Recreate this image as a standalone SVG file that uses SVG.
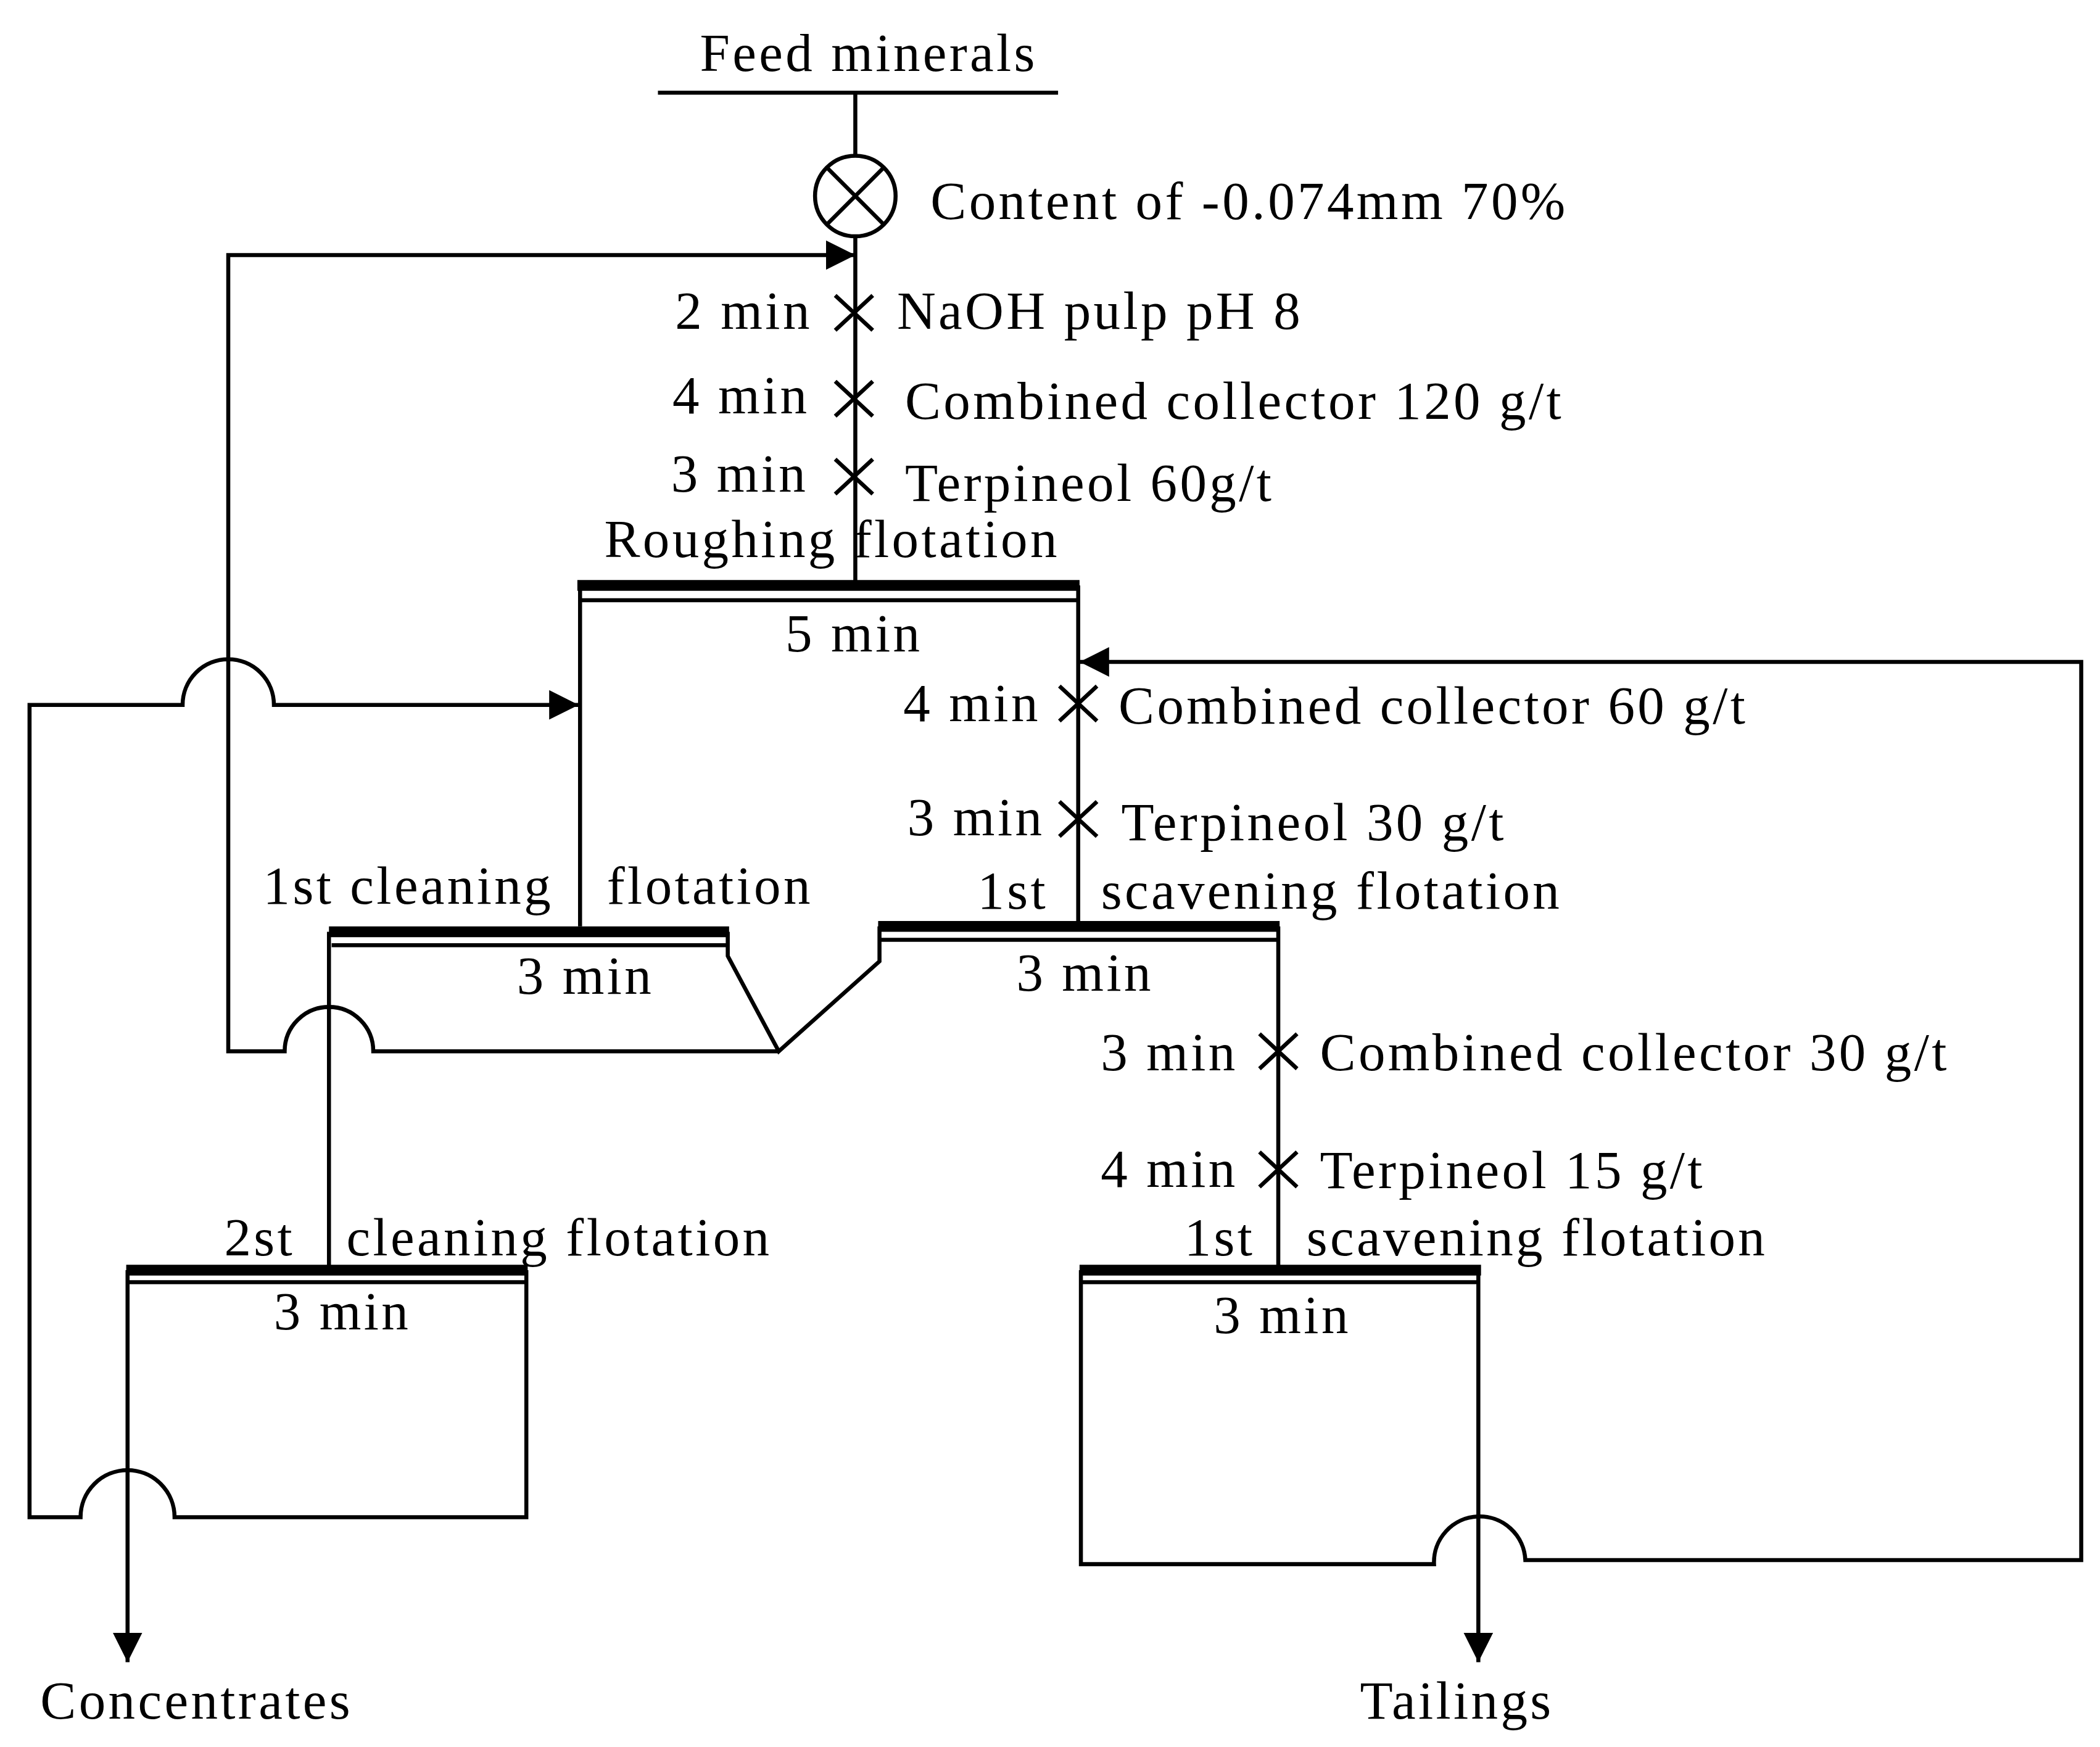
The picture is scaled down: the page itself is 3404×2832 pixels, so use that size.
<svg xmlns="http://www.w3.org/2000/svg" width="3404" height="2832" viewBox="0 0 3404 2832">
<defs>
<style>
.l{fill:none;stroke:#000;stroke-width:3}
.b{fill:none;stroke:#000;stroke-width:8}
.t{font-family:"Liberation Serif",serif;font-size:40px;letter-spacing:2px;fill:#000}
.r{text-anchor:end}
.c{text-anchor:middle}
</style>
<marker id="a" viewBox="0 0 10 10" refX="10" refY="5" markerWidth="22" markerHeight="22" markerUnits="userSpaceOnUse" orient="auto"><path d="M0,0L10,5L0,10z" fill="#000"/></marker>
</defs>
<rect width="3404" height="2832" fill="#fff"/>
<g transform="scale(2.1765)">
<g id="feed"><text class="t c" x="647" y="53">Feed minerals</text><path class="l" d="M490,69H788"/></g>
<g id="grind"><circle class="l" cx="637" cy="146" r="30"/><path class="l" d="M616,125L658,167M658,125L616,167"/><text class="t" x="693" y="163">Content of -0.074mm 70%</text></g>
<g id="rough">
<path class="b" d="M430,436H804"/><path class="l" d="M432,447H803"/>
<text class="t" x="450" y="415">Roughing flotation</text><text class="t c" x="636" y="485">5 min</text>
</g>
<g id="clean1">
<path class="b" d="M245,694H543"/><path class="l" d="M247,704H542"/>
<text class="t" x="196" y="673">1st cleaning</text><text class="t" x="452" y="673">flotation</text><text class="t c" x="436" y="740">3 min</text>
</g>
<g id="scav1">
<path class="b" d="M654,690H953"/><path class="l" d="M656,700H952"/>
<text class="t" x="728" y="677">1st</text><text class="t" x="820" y="677">scavening flotation</text><text class="t c" x="808" y="738">3 min</text>
</g>
<g id="clean2">
<path class="b" d="M94,946H393"/><path class="l" d="M96,955H392"/>
<text class="t" x="167" y="935">2st</text><text class="t" x="258" y="935">cleaning flotation</text><text class="t c" x="255" y="990">3 min</text>
</g>
<g id="scav2">
<path class="b" d="M804,946H1103"/><path class="l" d="M806,955H1102"/>
<text class="t" x="882" y="935">1st</text><text class="t" x="973" y="935">scavening flotation</text><text class="t c" x="955" y="993">3 min</text>
</g>
<g id="reagents">
<path class="l" d="M622,220L650,246M650,220L622,246M622,284L650,310M650,284L622,310M622,342L650,368M650,342L622,368M789,511L817,537M817,511L789,537M789,597L817,623M817,597L789,623M938,770L966,796M966,770L938,796M938,858L966,884M966,858L938,884"/>
<text class="t r" x="605" y="245">2 min</text><text class="t" x="668" y="245">NaOH pulp pH 8</text>
<text class="t r" x="603" y="308">4 min</text><text class="t" x="674" y="312">Combined collector 120 g/t</text>
<text class="t r" x="602" y="366">3 min</text><text class="t" x="674" y="373">Terpineol 60g/t</text>
<text class="t r" x="775" y="537">4 min</text><text class="t" x="833" y="539">Combined collector 60 g/t</text>
<text class="t r" x="778" y="622">3 min</text><text class="t" x="835" y="626">Terpineol 30 g/t</text>
<text class="t r" x="922" y="797">3 min</text><text class="t" x="983" y="797">Combined collector 30 g/t</text>
<text class="t r" x="922" y="884">4 min</text><text class="t" x="983" y="885">Terpineol 15 g/t</text>
</g>
<g id="outputs"><text class="t" x="30" y="1280">Concentrates</text><text class="t c" x="1085" y="1280">Tailings</text></g>
<g id="connectors">
<path class="l" d="M637,69V116M637,176V436"/>
<path class="l" d="M432,436V690M803,436V688"/>
<path class="l" d="M952,690V946"/>
<path class="l" d="M245,694V946"/>
<path class="l" d="M542,694V712L580,783L655,716V690"/>
<path class="l" marker-end="url(#a)" d="M580,783H278A33,33 0 0 0 212,783H170V190H637"/>
<path class="l" marker-end="url(#a)" d="M392,946V1130H130A35,35 0 0 0 60,1130H22V525H136A34,34 0 0 1 204,525H431"/>
<path class="l" marker-end="url(#a)" d="M95,946V1238"/>
<path class="l" marker-end="url(#a)" d="M805,946V1165H1068A34,34 0 0 1 1136,1162H1550V493H804"/>
<path class="l" marker-end="url(#a)" d="M1101,946V1238"/>
</g>
</g>
</svg>
